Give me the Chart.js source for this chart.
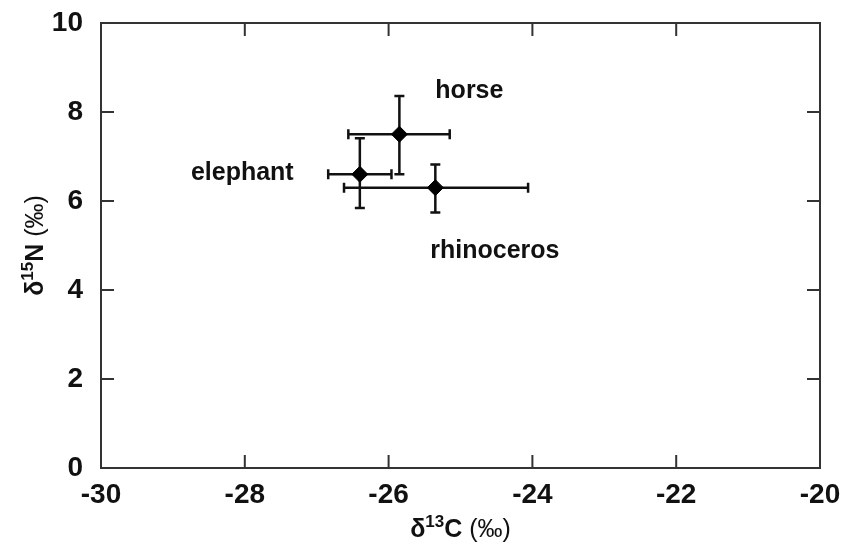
<!DOCTYPE html>
<html>
<head>
<meta charset="utf-8">
<title>δ13C vs δ15N</title>
<script src="https://cdn.jsdelivr.net/npm/chart.js@4.4.1/dist/chart.umd.min.js"></script>
<style>
  html, body { margin: 0; padding: 0; background: #fff; }
  #wrap { width: 842px; height: 552px; position: relative; }
</style>
</head>
<body>
<div id="wrap"><canvas id="isoChart"></canvas></div>
<script>
"use strict";

// mean values and ranges per species
var species = ['horse', 'elephant', 'rhinoceros'];
var d13C = [-25.85, -26.40, -25.35];
var d15N = [7.50, 6.60, 6.30];
var d13CLow = [-26.56, -26.84, -26.62];
var d13CHigh = [-25.15, -25.96, -24.06];
var d15NLow = [6.60, 5.84, 5.74];
var d15NHigh = [8.36, 7.41, 6.82];

var xTicks = [-30, -28, -26, -24, -22, -20];
var yTicks = [0, 2, 4, 6, 8, 10];

var ink = '#111';

var points = species.map(function (s, i) {
    return { x: d13C[i], y: d15N[i] };
});

// error bars, frame, inner ticks, species names and axis titles
var isoPlugin = {
    id: 'isoPlugin',
    beforeDatasetsDraw: function (chart) {
        var ctx = chart.ctx, sx = chart.scales.x, sy = chart.scales.y;
        ctx.save();
        ctx.strokeStyle = ink;
        ctx.lineWidth = 2.5;
        var cap = 5;
        for (var i = 0; i < species.length; i++) {
            var px = sx.getPixelForValue(d13C[i]);
            var py = sy.getPixelForValue(d15N[i]);
            var x0 = sx.getPixelForValue(d13CLow[i]), x1 = sx.getPixelForValue(d13CHigh[i]);
            var y0 = sy.getPixelForValue(d15NLow[i]), y1 = sy.getPixelForValue(d15NHigh[i]);
            ctx.beginPath();
            ctx.moveTo(x0, py); ctx.lineTo(x1, py);
            ctx.moveTo(x0, py - cap); ctx.lineTo(x0, py + cap);
            ctx.moveTo(x1, py - cap); ctx.lineTo(x1, py + cap);
            ctx.moveTo(px, y0); ctx.lineTo(px, y1);
            ctx.moveTo(px - cap, y0); ctx.lineTo(px + cap, y0);
            ctx.moveTo(px - cap, y1); ctx.lineTo(px + cap, y1);
            ctx.stroke();
        }
        ctx.restore();
    },
    afterDraw: function (chart, args, opts) {
        var ctx = chart.ctx, a = chart.chartArea;
        var sx = chart.scales.x, sy = chart.scales.y;
        ctx.save();
        ctx.strokeStyle = '#333';
        ctx.lineWidth = 2;
        ctx.strokeRect(a.left, a.top, a.right - a.left, a.bottom - a.top);

        var tl = 13;
        ctx.beginPath();
        xTicks.slice(1, -1).forEach(function (v) {
            var x = sx.getPixelForValue(v);
            ctx.moveTo(x, a.bottom); ctx.lineTo(x, a.bottom - tl);
            ctx.moveTo(x, a.top); ctx.lineTo(x, a.top + tl);
        });
        yTicks.slice(1, -1).forEach(function (v) {
            var y = sy.getPixelForValue(v);
            ctx.moveTo(a.left, y); ctx.lineTo(a.left + tl, y);
            ctx.moveTo(a.right, y); ctx.lineTo(a.right - tl, y);
        });
        ctx.stroke();

        // species names
        ctx.fillStyle = ink;
        ctx.font = 'bold 25px Arial, "Liberation Sans", sans-serif';
        ctx.textAlign = 'left';
        ctx.textBaseline = 'alphabetic';
        opts.names.forEach(function (n) {
            ctx.fillText(n.text, sx.getPixelForValue(n.x), sy.getPixelForValue(n.y));
        });

        // axis titles with superscripts
        var big = 'bold 25px Arial, "Liberation Sans", sans-serif';
        var sup = 'bold 17px Arial, "Liberation Sans", sans-serif';
        var thin = '25px Arial, "Liberation Sans", sans-serif';
        function title(parts, cx, cy, rot) {
            ctx.save();
            ctx.translate(cx, cy);
            ctx.rotate(rot);
            var w = 0;
            parts.forEach(function (p) { ctx.font = p[1]; w += ctx.measureText(p[0]).width; });
            var x = -w / 2;
            parts.forEach(function (p) {
                ctx.font = p[1];
                ctx.fillText(p[0], x, p[2]);
                x += ctx.measureText(p[0]).width;
            });
            ctx.restore();
        }
        title([['δ', big, 0], ['13', sup, -10], ['C', big, 0], [' (‰)', thin, 0]],
            (a.left + a.right) / 2, 537, 0);
        title([['δ', big, 0], ['15', sup, -10], ['N', big, 0], [' (‰)', thin, 0]],
            43, (a.top + a.bottom) / 2, -Math.PI / 2);
        ctx.restore();
    }
};

var ctx = document.getElementById('isoChart').getContext('2d');
var isoChart = new Chart(ctx, {
    type: 'scatter',
    data: {
        datasets: [{
            data: points,
            pointStyle: 'rectRot',
            pointRadius: 8,
            pointHoverRadius: 8,
            backgroundColor: '#000',
            borderColor: '#000',
            borderWidth: 1
        }]
    },
    options: {
        responsive: true,
        maintainAspectRatio: false,
        animation: false,
        layout: { padding: { left: 0, top: 23, right: 22, bottom: 0 } },
        plugins: {
            legend: { display: false },
            tooltip: { enabled: false },
            isoPlugin: {
                names: [
                    { text: species[0], x: -25.35, y: 8.31 },
                    { text: species[1], x: -28.75, y: 6.47 },
                    { text: species[2], x: -25.42, y: 4.72 }
                ]
            }
        },
        scales: {
            x: {
                type: 'linear',
                min: -30,
                max: -20,
                afterFit: function (s) {
                    s.height = 84;
                    s.paddingLeft = 0;
                    s.paddingRight = 0;
                },
                afterBuildTicks: function (s) {
                    s.ticks = xTicks.map(function (v) { return { value: v }; });
                },
                grid: { display: false, drawTicks: false },
                border: { display: false },
                ticks: {
                    padding: 10,
                    color: ink,
                    maxRotation: 0,
                    font: { family: 'Arial, "Liberation Sans", sans-serif', size: 28, weight: 'bold' }
                }
            },
            y: {
                type: 'linear',
                min: 0,
                max: 10,
                afterFit: function (s) {
                    s.width = 101;
                    s.paddingTop = 0;
                    s.paddingBottom = 0;
                },
                afterBuildTicks: function (s) {
                    s.ticks = yTicks.map(function (v) { return { value: v }; });
                },
                grid: { display: false, drawTicks: false },
                border: { display: false },
                ticks: {
                    padding: 18,
                    color: ink,
                    font: { family: 'Arial, "Liberation Sans", sans-serif', size: 28, weight: 'bold' }
                }
            }
        }
    },
    plugins: [isoPlugin]
});
</script>
</body>
</html>
